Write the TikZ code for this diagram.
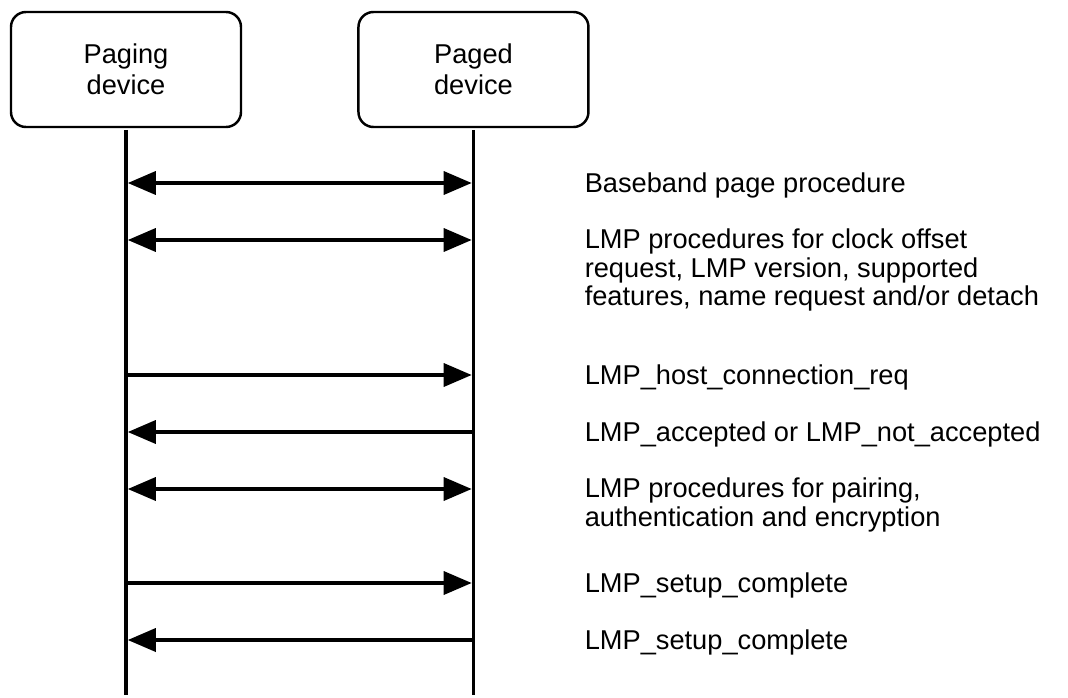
\documentclass[tikz,border=0pt]{standalone}
\usepackage{fontspec}
\setmainfont{Liberation Sans}
\usetikzlibrary{calc}
\usetikzlibrary{positioning}
\usetikzlibrary{arrows.meta}

\begin{document}
\begin{tikzpicture}[>={Triangle[length=5.6mm, width=4.6mm]}, line width=2pt, shorten >=1pt, shorten <=1pt, font=\fontsize{15.5}{16}\selectfont]
	\tikzstyle{device}=[draw=black, line width=1.4pt, rounded corners=3mm, minimum width=4.6cm, minimum height=2.3cm, align=center, inner sep=0pt, font=\fontsize{15.5}{17.6}\selectfont]
	\tikzstyle{msg}=[anchor=west, align=left, inner sep=0pt]
	\useasboundingbox (0,0) rectangle (21.36,-13.94);

	\node[device] (paging) at (2.52,-1.39) {Paging\\device};
	\node[device, right=2.3cm of paging] (paged) {Paged\\device};
	\coordinate (bottom) at (0,-13.94);

	\draw (paging.south) -- (paging |- bottom);
	\draw (paged.south) -- (paged |- bottom);

	% message rows
	\coordinate (r1) at (11.66,-3.66);
	\coordinate (r2) at (11.66,-4.80);
	\coordinate (r3) at (11.66,-7.50);
	\coordinate (r4) at (11.66,-8.64);
	\coordinate (r5) at (11.66,-9.78);
	\coordinate (r6) at (11.66,-11.66);
	\coordinate (r7) at (11.66,-12.80);

	\draw[<->] (paging |- r1) -- (paged |- r1);
	\draw[<->] (paging |- r2) -- (paged |- r2);
	\draw[->] (paging |- r3) -- (paged |- r3);
	\draw[<-] (paging |- r4) -- (paged |- r4);
	\draw[<->] (paging |- r5) -- (paged |- r5);
	\draw[->] (paging |- r6) -- (paged |- r6);
	\draw[<-] (paging |- r7) -- (paged |- r7);

	\node[msg] (t1) at ($(r1) + (0,-0.04)$) {Baseband page procedure};
	\node[msg] (t2) at ($(r2) + (0,-0.60)$) {LMP procedures for clock offset\\request, LMP version, supported\\features, name request and/or detach};
	\node[msg] (t3) at ($(r3) + (0,-0.04)$) {LMP\_host\_connection\_req};
	\node[msg] (t4) at ($(r4) + (0,-0.04)$) {LMP\_accepted or LMP\_not\_accepted};
	\node[msg] (t5) at ($(r5) + (0,-0.32)$) {LMP procedures for pairing,\\authentication and encryption};
	\node[msg] (t6) at ($(r6) + (0,-0.04)$) {LMP\_setup\_complete};
	\node[msg] (t7) at ($(r7) + (0,-0.04)$) {LMP\_setup\_complete};
\end{tikzpicture}
\end{document}
